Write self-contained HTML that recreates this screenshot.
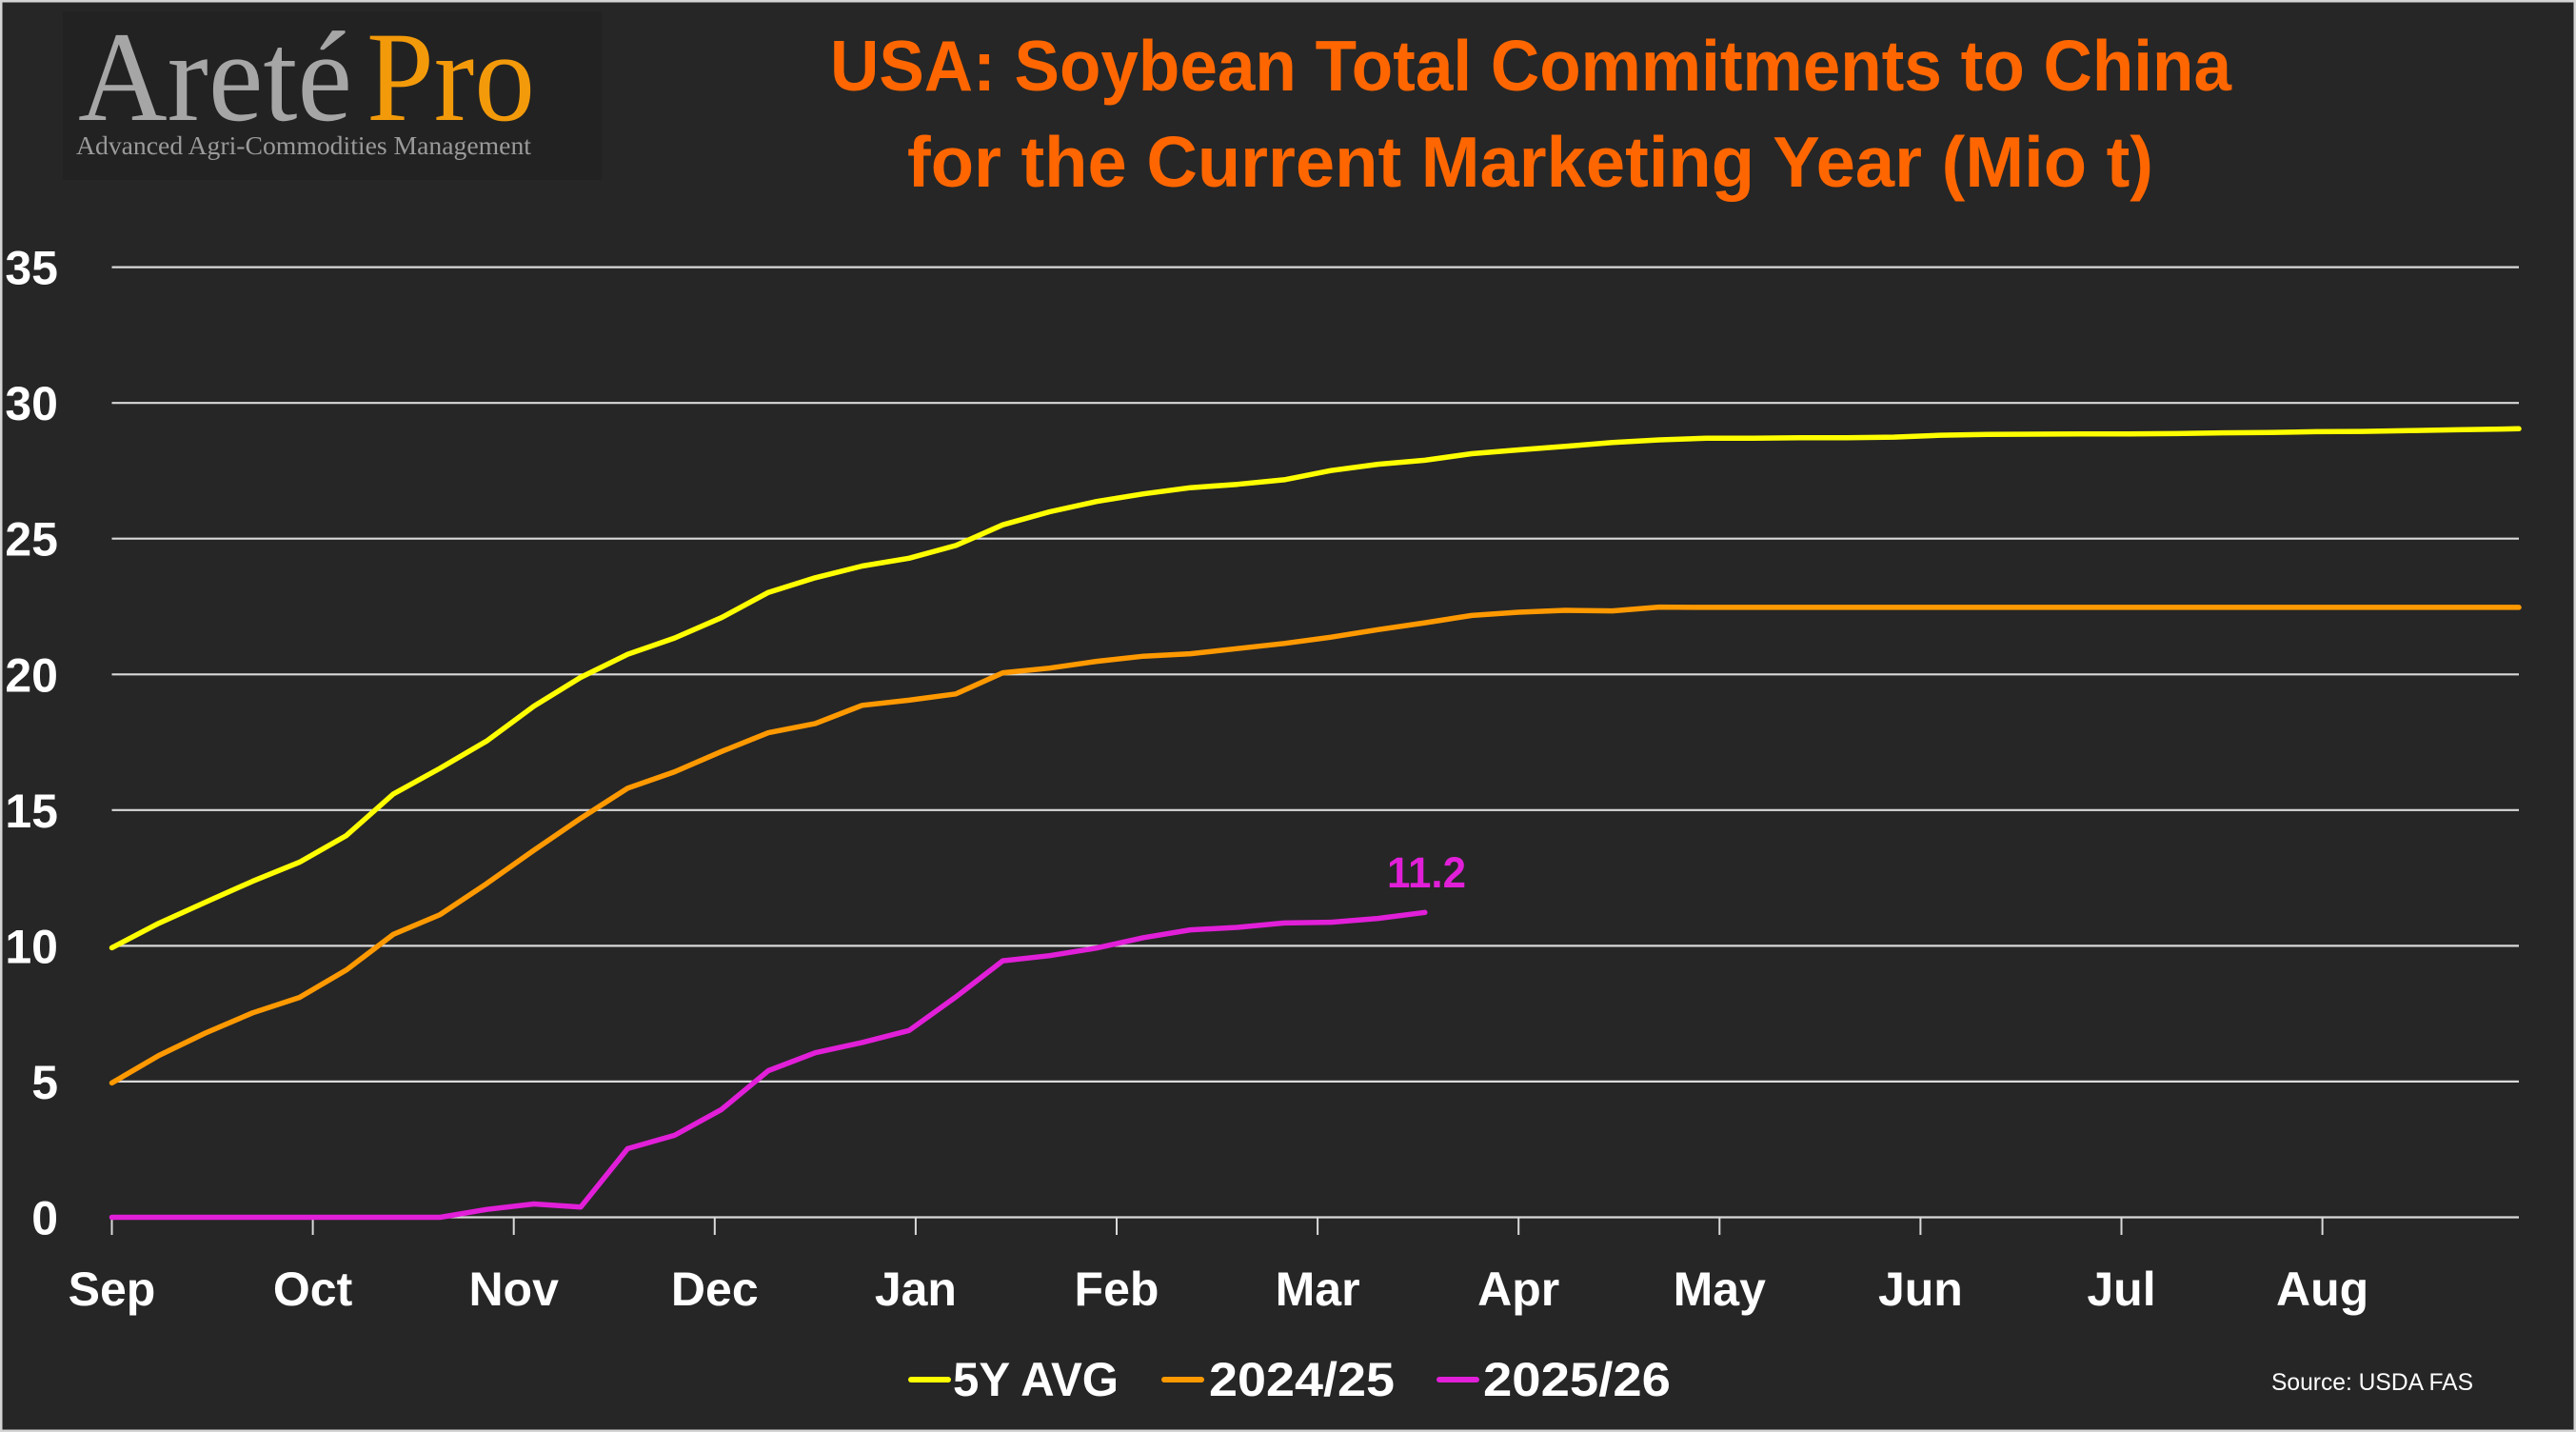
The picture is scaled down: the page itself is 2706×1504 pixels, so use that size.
<!DOCTYPE html>
<html>
<head>
<meta charset="utf-8">
<style>
  html, body { margin: 0; padding: 0; background: #262626; }
  body { width: 2706px; height: 1504px; overflow: hidden; }
  svg { display: block; }
</style>
</head>
<body>
<svg xmlns="http://www.w3.org/2000/svg" width="2706" height="1504" viewBox="0 0 2706 1504">
  <rect x="0" y="0" width="2706" height="1504" fill="#262626"/>
  <rect x="1.25" y="1.25" width="2703.5" height="1501.5" fill="none" stroke="#d4d4d4" stroke-width="2.5"/>

  <!-- Logo -->
  <rect x="66" y="12" width="566" height="177" fill="#222222"/>
  <text x="82" y="126" font-family="'Liberation Serif', serif" font-size="135" fill="#a6a6a6" textLength="288" lengthAdjust="spacingAndGlyphs">Areté</text>
  <text x="385" y="126" font-family="'Liberation Serif', serif" font-size="135" fill="#f39a0a" textLength="177" lengthAdjust="spacingAndGlyphs">Pro</text>
  <text x="80" y="162" font-family="'Liberation Serif', serif" font-size="27" fill="#9a9a9a" textLength="478" lengthAdjust="spacingAndGlyphs">Advanced Agri-Commodities Management</text>

  <!-- Title -->
  <text x="872" y="95" font-family="'Liberation Sans', sans-serif" font-weight="bold" font-size="75" fill="#ff6600" textLength="1472" lengthAdjust="spacingAndGlyphs">USA: Soybean Total Commitments to China</text>
  <text x="953" y="196" font-family="'Liberation Sans', sans-serif" font-weight="bold" font-size="75" fill="#ff6600" textLength="1309" lengthAdjust="spacingAndGlyphs">for the Current Marketing Year (Mio t)</text>

  <!-- Gridlines -->
  <g stroke="#d9d9d9" stroke-width="2.2">
    <line x1="117.5" y1="280.6" x2="2646" y2="280.6"/>
    <line x1="117.5" y1="423.2" x2="2646" y2="423.2"/>
    <line x1="117.5" y1="565.7" x2="2646" y2="565.7"/>
    <line x1="117.5" y1="708.3" x2="2646" y2="708.3"/>
    <line x1="117.5" y1="850.8" x2="2646" y2="850.8"/>
    <line x1="117.5" y1="993.4" x2="2646" y2="993.4"/>
    <line x1="117.5" y1="1135.9" x2="2646" y2="1135.9"/>
    <line x1="117.5" y1="1278.5" x2="2646" y2="1278.5"/>
  </g>
  <!-- Ticks -->
  <g stroke="#d9d9d9" stroke-width="2">
    <line x1="117.5" y1="1278.5" x2="117.5" y2="1297"/>
    <line x1="328.6" y1="1278.5" x2="328.6" y2="1297"/>
    <line x1="539.7" y1="1278.5" x2="539.7" y2="1297"/>
    <line x1="750.8" y1="1278.5" x2="750.8" y2="1297"/>
    <line x1="961.9" y1="1278.5" x2="961.9" y2="1297"/>
    <line x1="1173" y1="1278.5" x2="1173" y2="1297"/>
    <line x1="1384.1" y1="1278.5" x2="1384.1" y2="1297"/>
    <line x1="1595.2" y1="1278.5" x2="1595.2" y2="1297"/>
    <line x1="1806.3" y1="1278.5" x2="1806.3" y2="1297"/>
    <line x1="2017.4" y1="1278.5" x2="2017.4" y2="1297"/>
    <line x1="2228.5" y1="1278.5" x2="2228.5" y2="1297"/>
    <line x1="2439.6" y1="1278.5" x2="2439.6" y2="1297"/>
  </g>

  <!-- Y labels -->
  <g font-family="'Liberation Sans', sans-serif" font-weight="bold" font-size="50" fill="#ffffff" text-anchor="end">
    <text x="61" y="298.6">35</text>
    <text x="61" y="441.2">30</text>
    <text x="61" y="583.7">25</text>
    <text x="61" y="726.3">20</text>
    <text x="61" y="868.8">15</text>
    <text x="61" y="1011.4">10</text>
    <text x="61" y="1153.9">5</text>
    <text x="61" y="1296.5">0</text>
  </g>

  <!-- X labels -->
  <g font-family="'Liberation Sans', sans-serif" font-weight="bold" font-size="50" fill="#ffffff" text-anchor="middle">
    <text x="117.5" y="1371">Sep</text>
    <text x="328.6" y="1371">Oct</text>
    <text x="539.7" y="1371">Nov</text>
    <text x="750.8" y="1371">Dec</text>
    <text x="961.9" y="1371">Jan</text>
    <text x="1173" y="1371">Feb</text>
    <text x="1384.1" y="1371">Mar</text>
    <text x="1595.2" y="1371">Apr</text>
    <text x="1806.3" y="1371">May</text>
    <text x="2017.4" y="1371">Jun</text>
    <text x="2228.5" y="1371">Jul</text>
    <text x="2439.6" y="1371">Aug</text>
  </g>

  <!-- Series -->
  <g fill="none" stroke-width="5.5" stroke-linejoin="round" stroke-linecap="round">
    <polyline stroke="#ffff00" points="117.5,995.4 166.76,969.7 216.02,947.5 265.28,925.6 314.54,905.6 363.8,877.6 413.06,834.0 462.32,806.9 511.58,778.1 560.84,741.7 610.1,711.4 659.36,687.2 708.62,670.1 757.88,648.7 807.14,622.2 856.4,606.8 905.66,594.5 954.92,586.3 1004.18,572.9 1053.44,551.2 1102.7,537.5 1151.96,526.7 1201.22,518.7 1250.48,512.2 1299.74,508.7 1349.0,503.9 1398.26,494.2 1447.52,487.6 1496.78,483.4 1546.04,476.5 1595.3,472.5 1644.56,468.8 1693.82,464.8 1743.08,462.0 1792.34,460.3 1841.6,460.3 1890.86,459.7 1940.12,459.7 1989.38,459.1 2038.64,457.1 2087.9,456.3 2137.16,456.0 2186.42,455.7 2235.68,455.7 2284.94,455.4 2334.2,454.6 2383.46,454.3 2432.72,453.4 2481.98,453.1 2531.24,452.3 2580.5,451.4 2629.76,450.6 2646,450.3"/>
    <polyline stroke="#ff9900" points="117.5,1137.4 166.76,1108.6 216.02,1084.9 265.28,1063.8 314.54,1047.6 363.8,1018.8 413.06,981.4 462.32,960.6 511.58,927.8 560.84,893.0 610.1,859.4 659.36,827.8 708.62,810.6 757.88,789.3 807.14,769.6 856.4,759.9 905.66,740.8 954.92,735.4 1004.18,728.8 1053.44,706.6 1102.7,701.7 1151.96,694.6 1201.22,689.2 1250.48,686.6 1299.74,681.2 1349.0,675.8 1398.26,669.2 1447.52,661.3 1496.78,654.1 1546.04,646.4 1595.3,643.0 1644.56,641.0 1693.82,641.6 1743.08,637.6 1792.34,637.9 2646,637.9"/>
    <polyline stroke="#e11fd8" points="117.5,1278.5 166.76,1278.5 216.02,1278.5 265.28,1278.5 314.54,1278.5 363.8,1278.5 413.06,1278.5 462.32,1278.5 511.58,1270.2 560.84,1264.5 610.1,1267.7 659.36,1206.4 708.62,1192.4 757.88,1165.3 807.14,1124.5 856.4,1105.7 905.66,1094.9 954.92,1082.3 1004.18,1047.0 1053.44,1009.1 1102.7,1003.7 1151.96,995.7 1201.22,984.8 1250.48,976.6 1299.74,974.0 1349.0,969.4 1398.26,968.6 1447.52,964.6 1496.78,958.3"/>
  </g>

  <!-- Data label -->
  <text x="1457" y="932" font-family="'Liberation Sans', sans-serif" font-weight="bold" font-size="45" fill="#e11fd8" textLength="83" lengthAdjust="spacingAndGlyphs">11.2</text>

  <!-- Legend -->
  <g stroke-width="6" stroke-linecap="round">
    <line x1="957" y1="1449" x2="996" y2="1449" stroke="#ffff00"/>
    <line x1="1223" y1="1449" x2="1262" y2="1449" stroke="#ff9900"/>
    <line x1="1512" y1="1449" x2="1551" y2="1449" stroke="#e11fd8"/>
  </g>
  <g font-family="'Liberation Sans', sans-serif" font-weight="bold" font-size="50" fill="#ffffff">
    <text x="1001" y="1466" textLength="174" lengthAdjust="spacingAndGlyphs">5Y AVG</text>
    <text x="1270" y="1466" textLength="195" lengthAdjust="spacingAndGlyphs">2024/25</text>
    <text x="1558" y="1466" textLength="197" lengthAdjust="spacingAndGlyphs">2025/26</text>
  </g>
  <text x="2386" y="1460" font-family="'Liberation Sans', sans-serif" font-size="25" fill="#ffffff" textLength="212" lengthAdjust="spacingAndGlyphs">Source:  USDA FAS</text>
</svg>
</body>
</html>
